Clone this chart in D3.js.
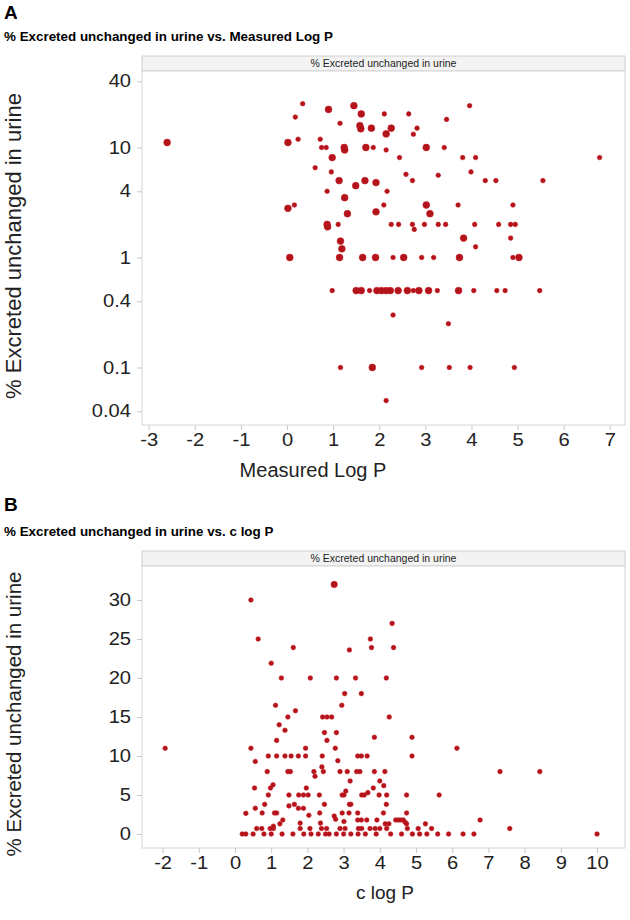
<!DOCTYPE html>
<html><head><meta charset="utf-8">
<script src="https://cdn.jsdelivr.net/npm/d3@7"></script>
<style>body{margin:0;background:#fff}svg{display:block}</style>
</head><body><svg id="c" width="630" height="920"></svg>
<script>
// ---------- Panel A data: Measured Log P vs % excreted (log scale) ----------
const aLogP = [-2.6,0.34,0.90,1.45,1.61,2.11,0.18,1.15,1.58,1.60,1.83,2.15,2.26,0.02,0.24,0.72,0.75,0.85,1.24,1.25,1.71,1.87,2.15,0.98,0.61,0.96,1.13,1.49,1.69,1.93,
  2.64,2.82,2.74,3.46,3.96,3.02,3.41,2.44,3.81,4.09,6.78,2.58,2.72,3.28,3.99,4.30,4.53,5.55,
  0.87,1.25,2.17,0.02,0.16,1.31,1.93,2.10,0.87,0.88,1.11,1.16,1.19,0.06,1.14,1.64,1.92,
  3.02,3.10,3.71,4.90,2.26,2.42,2.72,2.98,3.28,3.44,4.07,4.59,4.85,4.95,2.76,3.83,4.85,4.09,
  2.30,2.53,2.92,3.18,3.74,4.90,5.03,
  0.98,1.50,1.61,1.79,1.95,2.05,2.15,2.24,2.41,2.61,2.74,2.86,3.07,3.26,3.72,4.05,4.55,4.73,5.48,
  2.30,3.50,1.16,1.85,2.92,3.52,3.97,4.93,2.15];
const aPct = [11.1,25,22.2,24,20.2,20.2,18.9,16.6,15.8,14.8,15,13.3,15,11.1,11.9,11.9,10,10,10,9.5,10,10,9.5,8.1,6.55,6.0,5.0,4.5,5.0,4.8,
  20.2,15,13.2,18,24,10,10,8.1,8.1,8.1,8.1,5.7,5.0,5.6,6.0,5.0,5.0,5.0,
  4.0,3.5,4.0,2.8,3.0,2.5,2.6,3.0,2.0,1.9,2.0,1.41,1.2,1,1,1,1,
  3.0,2.5,3.0,3.0,2.0,2.0,2.0,2.0,2.0,2.0,2.0,2.0,2.0,2.0,1.8,1.5,1.5,1.25,
  1,1,1,1,1,1,1,
  0.5,0.5,0.5,0.5,0.5,0.5,0.5,0.5,0.5,0.5,0.5,0.5,0.5,0.5,0.5,0.5,0.5,0.5,0.5,
  0.3,0.25,0.1,0.1,0.1,0.1,0.1,0.1,0.05];
// 1 = single compound marker, 2 = larger (overlapping) marker
const aSize = [2,1,2,2,2,1,1,1,2,2,2,2,2,2,1,1,1,1,2,2,2,1,1,2,1,1,2,2,2,2,
  1,1,1,1,1,2,1,1,1,1,1,1,1,1,1,1,1,1,
  1,2,1,2,1,2,2,1,2,2,1,2,2,2,2,2,2,
  2,2,1,1,1,1,1,1,1,1,1,1,1,1,1,2,1,1,
  1,2,1,1,2,1,2,
  1,2,2,1,2,2,2,2,2,2,1,2,2,1,2,1,1,1,1,
  1,1,1,2,1,1,1,1,1];
const aXTicks = [-3,-2,-1,0,1,2,3,4,5,6,7];
const aYTicks = [40,10,4,1,0.4,0.1,0.04];
const aYTickLabels = ["40","10","4","1","0.4","0.1","0.04"];

// ---------- Panel B data: c log P vs % excreted (linear) ----------
const bCLogP = [2.74,0.44,0.64,1.61,1.00,3.16,3.74,3.77,4.34,4.38,
  1.28,2.08,2.80,3.33,4.18,3.03,3.49,1.12,2.95,1.67,
  1.46,2.42,2.54,2.67,4.26,1.22,1.38,2.47,2.80,1.15,2.54,3.85,4.89,4.89,
  -1.93,0.44,1.95,2.77,6.13,0.56,2.84,
  0.92,1.15,1.38,1.55,1.75,1.95,2.41,3.39,3.49,3.65,2.40,
  0.89,1.46,1.53,2.18,2.44,2.90,3.10,3.36,3.45,3.85,4.14,7.32,8.42,
  2.21,3.18,4.00,0.54,0.98,1.05,1.97,3.06,3.82,4.11,
  0.92,1.49,1.76,1.89,2.02,2.33,2.96,3.01,3.50,3.57,3.98,4.19,4.74,5.64,3.67,
  1.49,1.64,1.75,1.89,2.47,0.82,0.56,3.16,3.20,4.18,
  0.30,0.75,1.09,1.15,2.04,2.34,2.74,2.96,3.15,3.39,4.10,4.74,
  1.32,1.80,2.36,2.78,3.01,3.39,3.49,3.64,3.92,1.06,1.24,4.44,4.51,4.58,4.65,4.70,4.74,4.15,4.25,5.26,6.77,
  4.76,5.06,5.43,7.59,0.60,0.74,0.97,1.06,1.80,2.07,2.39,2.53,2.90,3.04,3.41,3.50,3.73,3.87,4.00,4.19,
  0.20,0.30,0.50,0.80,1.00,1.30,1.60,1.90,2.10,2.30,2.50,2.60,2.80,3.00,3.20,3.40,3.60,3.90,4.30,4.60,4.90,5.10,5.30,5.60,5.90,6.30,6.60,10.0];
const bPct = [32,30,25,23.9,21.9,23.6,25,23.9,27,23.9,
  20,20,20,20,20,18,18,16.5,16.5,15.8,
  15,15,15,15,15,14,13.3,13,13,12,12,12.4,12.4,10,
  11,11,11,11,11,9.3,9.4,
  10,10,10,10,10,10,10,10,10,10,8.6,
  8,8,8,8,8,8,8,8,8,8,8,8,8,
  7.4,6.8,6.8,5.9,5.9,6.3,5.9,5.5,5.9,6.2,
  5,5,5,5,5,5,5,5,5,5,5,5,5,5,5.3,
  3.6,3.8,3.3,3.3,3.8,3.8,3.3,3.8,3.8,3.8,
  2.65,2.7,2.7,2.7,2.4,2.7,2.3,2.7,2.7,2.7,2.7,2.7,
  1.8,1.4,1.4,1.9,1.6,1.8,1.8,1.8,1.8,1.0,1.3,1.8,1.8,1.8,1.8,1.5,1.3,1.3,1.3,1.3,1.8,
  0.7,0.7,0.7,0.7,0.7,0.7,0.7,0.7,0.7,0.7,0.7,0.7,0.7,0.7,0.7,0.7,0.7,0.7,0.7,0.7,
  0,0,0,0,0,0,0,0,0,0,0,0,0,0,0,0,0,0,0,0,0,0,0,0,0,0,0,0];
const bXTicks = [-2,-1,0,1,2,3,4,5,6,7,8,9,10];
const bYTicks = [0,5,10,15,20,25,30];

// ---------- drawing ----------
const svg = d3.select("#c");
const FONT = "'Liberation Sans', Arial, sans-serif";
const RED = "#b3131b";
const STRIP = "% Excreted unchanged in urine";

function stretch(sel, k){
  sel.each(function(){
    const len = this.getComputedTextLength();
    d3.select(this).attr("textLength", len*k).attr("lengthAdjust","spacingAndGlyphs");
  });
}

function panel(o){
  const g = svg.append("g");
  g.append("text").attr("x",4).attr("y",o.letterY).attr("font-family",FONT).attr("font-weight","bold")
    .attr("font-size",19).attr("fill","#000").text(o.letter);
  g.append("text").attr("x",4).attr("y",o.titleY).attr("font-family",FONT).attr("font-weight","bold")
    .attr("font-size",13.4).attr("fill","#000").text(o.title);
  const L=o.left,R=o.right,T=o.top,B=o.bottom;
  // strip
  g.append("rect").attr("x",L).attr("y",T-15).attr("width",R-L).attr("height",15)
    .attr("fill","#f3f3f3").attr("stroke","#cfcfcf").attr("stroke-width",1);
  g.append("text").attr("x",(L+R)/2).attr("y",T-4).attr("text-anchor","middle").attr("font-family",FONT)
    .attr("font-size",10.5).attr("fill","#222").text(STRIP);
  // frame
  g.append("rect").attr("x",L).attr("y",T).attr("width",R-L).attr("height",B-T)
    .attr("fill","#fff").attr("stroke","#d4d4d4").attr("stroke-width",1);
  const x=o.x, y=o.y;
  const ya = g.append("g").attr("transform",`translate(${L},0)`)
    .call(d3.axisLeft(y).tickValues(o.yTicks).tickSize(5).tickPadding(6).tickFormat((d,i)=>o.yLabels[i]));
  const xa = g.append("g").attr("transform",`translate(0,${B})`)
    .call(d3.axisBottom(x).tickValues(o.xTicks).tickSize(5).tickPadding(4).tickFormat(d=>d<0?"-"+Math.abs(d):d));
  [ya,xa].forEach(a=>{
    a.select(".domain").remove();
    a.selectAll("line").attr("stroke","#c8c8c8");
    a.selectAll("text").attr("font-family",FONT).attr("font-size",17.5).attr("fill","#222");
    stretch(a.selectAll("text"),1.15);
  });
  // axis titles
  g.append("text").attr("x",o.xTitleX).attr("y",o.xTitleY).attr("text-anchor","middle").attr("font-family",FONT)
    .attr("font-size",o.xTitleSize).attr("fill","#222").text(o.xTitle);
  g.append("text").attr("transform",`translate(21,${o.yTitleC}) rotate(-90)`).attr("text-anchor","middle")
    .attr("font-family",FONT).attr("font-size",o.yTitleSize).attr("fill","#222").text(STRIP);
  // points
  g.append("g").selectAll("circle").data(o.data).join("circle")
    .attr("cx",d=>x(d[0])).attr("cy",d=>y(d[1])).attr("r",d=>d[2]===2?o.rBig:o.rSmall)
    .attr("fill",RED).attr("stroke","#c4161f").attr("stroke-width",0.6);
}

const aData = aLogP.map((v,i)=>[v,aPct[i],aSize[i]]);
const bData = bCLogP.map((v,i)=>[v,bPct[i],(bPct[i]===32?2:1)]);

panel({letter:"A",letterY:19,title:"% Excreted unchanged in urine vs. Measured Log P",titleY:41,
  left:142,right:625,top:71,bottom:425,
  x:d3.scaleLinear().domain([-3.145,7.33]).range([142,625]),
  y:d3.scaleLog().domain([0.0300,49.6]).range([425,71]),
  xTicks:aXTicks,yTicks:aYTicks,yLabels:aYTickLabels,
  xTitle:"Measured Log P",xTitleX:313,xTitleY:477,xTitleSize:20,yTitleC:246,yTitleSize:22,
  data:aData,rSmall:2.3,rBig:3.4});

panel({letter:"B",letterY:511,title:"% Excreted unchanged in urine vs. c log P",titleY:536,
  left:142,right:625,top:566,bottom:848,
  x:d3.scaleLinear().domain([-2.569,10.773]).range([142,625]),
  y:d3.scaleLinear().domain([-1.795,34.36]).range([848,566]),
  xTicks:bXTicks,yTicks:bYTicks,yLabels:bYTicks.map(String),
  xTitle:"c log P",xTitleX:385,xTitleY:899,xTitleSize:19,yTitleC:714,yTitleSize:20.5,
  data:bData,rSmall:2.3,rBig:3.2});
</script></body></html>
